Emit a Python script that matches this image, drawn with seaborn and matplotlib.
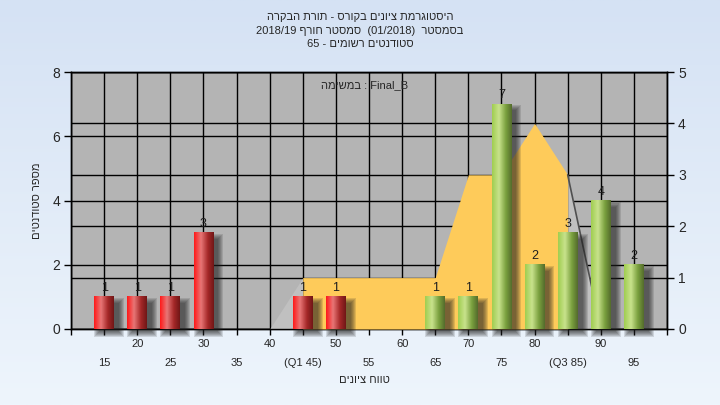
import matplotlib
matplotlib.use("Agg")
import matplotlib.pyplot as plt
import numpy as np
import pandas as pd
import seaborn as sns
from matplotlib.patches import Rectangle

# grade buckets and number of students in each
scores = [15, 20, 25, 30, 45, 50, 65, 70, 75, 80, 85, 90, 95]
counts = [1, 1, 1, 3, 1, 1, 1, 1, 7, 2, 3, 4, 2]

# distribution curve (right axis)
curve_x = [40, 45, 50, 55, 60, 65, 70, 75, 80, 85, 90]
curve_y = [0, 1, 1, 1, 1, 1, 3, 3, 4, 3, 0]
q1, q3 = 45, 85
pass_mark = 55

major_ticks = [10, 20, 30, 40, 50, 60, 70, 80, 90, 100]
major_labels = ['', '20', '30', '40', '50', '60', '70', '80', '90', '']
minor_ticks = [15, 25, 35, 45, 55, 65, 75, 85, 95]
minor_labels = ['15', '25', '35', '(Q1 45)', '55', '65', '75', '(Q3 85)', '95']
left_ticks = [0, 2, 4, 6, 8]
right_ticks = [0, 1, 2, 3, 4, 5]


def rtl(s):
    # matplotlib has no bidi, so hebrew goes in visual order
    return s[::-1]


title_lines = [
    rtl('היסטוגרמת ציונים בקורס - תורת הבקרה'),
    '2018/19 ' + rtl('סמסטר חורף') + '  (01/2018)  ' + rtl('בסמסטר'),
    '65 - ' + rtl('סטודנטים רשומים'),
]
legend_text = rtl('במשימה') + ' : Final_B'
ylabel = rtl('מספר סטודנטים')
xlabel = rtl('טווח ציונים')

sns.set_style('ticks')
plt.rcParams['font.family'] = ['Liberation Sans', 'DejaVu Sans']

fig = plt.figure(figsize=(7.2, 4.05), dpi=100)

# light blue gradient background
bg = fig.add_axes([0, 0, 1, 1], zorder=-10)
top_c = np.array([213, 226, 244]) / 255
bot_c = np.array([238, 245, 252]) / 255
t = np.linspace(0, 1, 256)[:, None]
grad = top_c[None, None, :] * (1 - t[:, :, None]) + bot_c[None, None, :] * t[:, :, None]
bg.imshow(np.repeat(grad, 2, axis=1), aspect='auto', extent=[0, 1, 0, 1])
bg.axis('off')

ax = fig.add_axes([71 / 720, 76 / 405, 596 / 720, 257 / 405])
ax.set_facecolor('#b4b4b4')
ax2 = ax.twinx()
ax3 = ax.twinx()

# bars
df = pd.DataFrame({'score': scores, 'count': counts})
df['group'] = np.where(df['score'] >= pass_mark, 'pass', 'fail')
sns.barplot(data=df, x='score', y='count', hue='group',
            palette={'fail': '#d42020', 'pass': '#9cc850'},
            native_scale=True, width=0.6, dodge=False, legend=False,
            saturation=1, edgecolor='none', ax=ax3)

ax.set_xlim(10, 100)
ax.set_ylim(0, 8)
ax2.set_ylim(0, 5)
ax3.set_ylim(0, 8)
ax3.set_xlim(10, 100)

# curve, orange between quartiles
cx = np.array(curve_x)
ax2.fill_between(cx, 0, curve_y, where=(cx <= q1), color='#c0c0c0', lw=0, zorder=2)
ax2.fill_between(cx, 0, curve_y, where=(cx >= q3), color='#c0c0c0', lw=0, zorder=2)
ax2.fill_between(cx, 0, curve_y, where=(cx >= q1) & (cx <= q3), color='#fecb5a', lw=0, zorder=3)
ax2.plot(curve_x[-2:], curve_y[-2:], color='#505050', lw=1.2, zorder=4)

# cylinder look + shadow for each bar
px = ax3.transData.transform((1, 0))[0] - ax3.transData.transform((0, 0))[0]
py = ax3.transData.transform((0, 1))[1] - ax3.transData.transform((0, 0))[1]
stops = [0, 0.35, 0.7, 1]
red_cols = np.array([[255, 25, 25], [232, 118, 118], [165, 40, 40], [112, 22, 22]]) / 255
green_cols = np.array([[160, 206, 80], [200, 226, 140], [122, 160, 62], [84, 108, 44]]) / 255
gx = np.linspace(0, 1, 64)
for p in list(ax3.patches):
    x0, y0 = p.get_x(), p.get_y()
    w, h = p.get_width(), p.get_height()
    if h <= 0:
        continue
    fc = p.get_facecolor()
    cols = red_cols if fc[0] > fc[1] else green_cols
    strip = np.stack([np.interp(gx, stops, cols[:, k]) for k in range(3)], axis=-1)[None, :, :]
    for k in range(6):
        grow = k * 1.0
        ax3.add_patch(Rectangle((x0 + (5 - grow) / px, y0 - (3 + grow) / py),
                                w + 2 * grow / px, h + 2 * grow / py - 3 / py,
                                color='#202020', alpha=0.14, lw=0, zorder=1, clip_on=False))
    ax3.imshow(strip, extent=[x0, x0 + w, y0, y0 + h], aspect='auto', zorder=3)
    p.set_visible(False)
    ax3.annotate(f'{int(h)}', (x0 + w / 2, y0 + h), xytext=(0, 2), textcoords='offset points',
                 ha='center', va='bottom', fontsize=9, color='#1e1e1e', zorder=5)

ax3.set_xlim(10, 100)
ax3.set_ylim(0, 8)
ax3.axis('off')

# ticks and grid
ax.set_xticks(major_ticks)
ax.set_xticklabels(major_labels)
ax.set_xticks(minor_ticks, minor=True)
ax.set_xticklabels(minor_labels, minor=True)
ax.set_yticks(left_ticks)
ax2.set_yticks(right_ticks)
ax.tick_params(axis='x', which='major', length=4, pad=3, labelsize=8, color='black', width=1)
ax.tick_params(axis='x', which='minor', length=4, pad=17, labelsize=8, color='black', width=1)
ax.tick_params(axis='y', length=5, pad=3, labelsize=10, color='black', width=1)
ax2.tick_params(axis='y', length=5, pad=3, labelsize=10, color='black', width=1)
ax.grid(which='both', axis='x', color='black', lw=1)
ax.grid(which='major', axis='y', color='black', lw=1)
ax2.grid(axis='y', color='black', lw=1, zorder=1)
for a in (ax, ax2):
    for s in a.spines.values():
        s.set_color('black')
        s.set_linewidth(1)

ax.set_ylabel(ylabel, fontsize=8)
ax.yaxis.set_label_coords(-0.048, 0.5)
ax.set_xlabel(xlabel, fontsize=8)
ax.xaxis.set_label_coords(0.493, -0.2)
ax.xaxis.label.set_va('center')

ax3.text(0.493, 0.949, legend_text, transform=ax3.transAxes, ha='center', va='center',
         fontsize=8, zorder=10)

for i, line in enumerate(title_lines):
    fig.text(0.5, 1 - (17 + 13.5 * i) / 405, line, ha='center', va='center', fontsize=8)

fig.savefig('out.png', dpi=100)
